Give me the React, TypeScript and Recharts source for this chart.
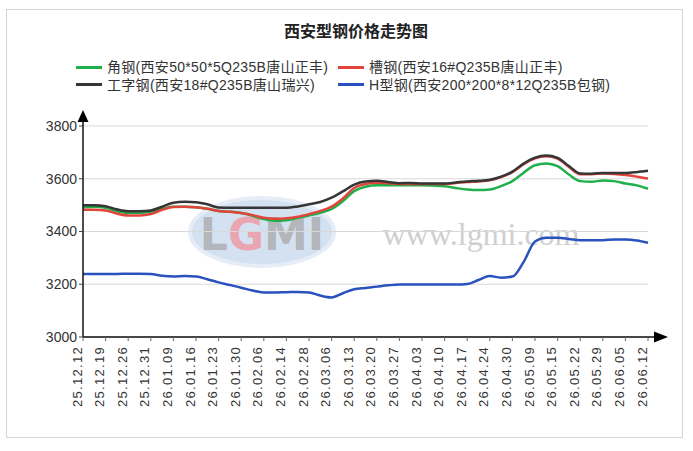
import React from 'react';
import { LineChart, Line, XAxis, YAxis, CartesianGrid, ReferenceDot } from 'recharts';

const chartTitle = '西安型钢价格走势图';

const dates = [
  '25.12.12', '25.12.19', '25.12.26', '25.12.31', '26.01.09', '26.01.16', '26.01.23',
  '26.01.30', '26.02.06', '26.02.14', '26.02.28', '26.03.06', '26.03.13', '26.03.20',
  '26.03.27', '26.04.03', '26.04.10', '26.04.17', '26.04.24', '26.04.30', '26.05.09',
  '26.05.15', '26.05.22', '26.05.29', '26.06.05', '26.06.12',
];

// values sampled at every label and halfway between labels
const angleSteel = [
  3492, 3494, 3490, 3477, 3471, 3471, 3475, 3486, 3494, 3494,
  3492, 3486, 3478, 3475, 3470, 3460, 3447, 3441, 3443, 3452,
  3461, 3471, 3486, 3515, 3553, 3570, 3575, 3575, 3575, 3575,
  3575, 3574, 3572, 3565, 3559, 3557, 3559, 3572, 3591, 3623,
  3651, 3658, 3648, 3616, 3591, 3589, 3593, 3591, 3582, 3575,
  3562,
];

const channelSteel = [
  3482, 3482, 3480, 3468, 3461, 3461, 3466, 3482, 3493, 3494,
  3492, 3486, 3478, 3475, 3470, 3462, 3452, 3448, 3450, 3456,
  3466, 3478, 3494, 3525, 3565, 3580, 3585, 3583, 3580, 3580,
  3580, 3580, 3580, 3584, 3588, 3590, 3594, 3606, 3625, 3655,
  3677, 3685, 3676, 3645, 3617, 3617, 3620, 3618, 3614, 3608,
  3601,
];

const iBeam = [
  3500, 3500, 3496, 3484, 3477, 3477, 3480, 3494, 3509, 3513,
  3511, 3503, 3491, 3490, 3490, 3490, 3490, 3490, 3490, 3495,
  3503, 3512, 3528, 3552, 3578, 3590, 3592, 3588, 3583, 3584,
  3582, 3582, 3582, 3586, 3590, 3592, 3596, 3608, 3627, 3658,
  3680, 3688, 3679, 3648, 3620, 3619, 3622, 3622, 3622, 3625,
  3630,
];

const hBeam = [
  3239, 3239, 3239, 3239, 3240, 3240, 3239, 3232, 3229, 3231,
  3229, 3219, 3207, 3197, 3187, 3176, 3169, 3169, 3170, 3171,
  3169, 3157, 3150, 3166, 3181, 3186, 3191, 3196, 3199, 3199,
  3199, 3199, 3199, 3199, 3201, 3216, 3231, 3225, 3229, 3285,
  3362, 3376, 3376, 3372, 3367, 3367, 3367, 3370, 3370, 3366,
  3357,
];

const yTicks = [3000, 3200, 3400, 3600, 3800];

const series = [
  { key: 'angle', name: '角钢(西安50*50*5Q235B唐山正丰)', color: '#1fb04b', values: angleSteel },
  { key: 'channel', name: '槽钢(西安16#Q235B唐山正丰)', color: '#e2433b', values: channelSteel },
  { key: 'ibeam', name: '工字钢(西安18#Q235B唐山瑞兴)', color: '#363636', values: iBeam },
  { key: 'hbeam', name: 'H型钢(西安200*200*8*12Q235B包钢)', color: '#2a52be', values: hBeam },
];

const drawOrder = ['hbeam', 'angle', 'channel', 'ibeam'];

const rows = angleSteel.map((_, k) => {
  const row: Record<string, number> = { pos: k / 2 };
  series.forEach((s) => {
    row[s.key] = s.values[k];
  });
  return row;
});

const xTickValues = dates.map((_, i) => i);

const FONT = '"Liberation Sans", Arial, "Noto Sans CJK SC", sans-serif';

const XTick = (props: any) => {
  const { x, y, payload } = props;
  return (
    <text
      transform={`translate(${x - 1.5},${y + 3}) rotate(-90)`}
      textAnchor="end"
      fontSize={13}
      letterSpacing={1.3}
      fill="#333"
      fontFamily={FONT}
    >
      {dates[payload.value]}
    </text>
  );
};

const XArrow = (p: any) => (
  <g>
    <line x1={p.cx} y1={p.cy} x2={p.cx + 7} y2={p.cy} stroke="#111" strokeWidth={1.5} />
    <path d={`M${p.cx + 6},${p.cy - 5.5} L${p.cx + 20},${p.cy} L${p.cx + 6},${p.cy + 5.5} Z`} fill="#000" />
  </g>
);

const YArrow = (p: any) => (
  <g>
    <line x1={p.cx} y1={p.cy} x2={p.cx} y2={p.cy - 5} stroke="#111" strokeWidth={1.5} />
    <path d={`M${p.cx - 5.5},${p.cy - 4} L${p.cx},${p.cy - 16} L${p.cx + 5.5},${p.cy - 4} Z`} fill="#000" />
  </g>
);

const legendRows = [
  [series[0], series[1]],
  [series[2], series[3]],
];

export default function App() {
  return (
    <div style={{ position: 'absolute', left: 0, top: 0, width: 693, height: 451, background: '#fff', fontFamily: FONT }}>
      <div
        style={{
          position: 'absolute',
          left: 6,
          top: 9,
          width: 675,
          height: 427,
          border: '1px solid #d4d4d4',
        }}
      />
      <div
        style={{
          position: 'absolute',
          left: 0,
          top: 22,
          width: 712,
          textAlign: 'center',
          fontSize: 16,
          fontWeight: 'bold',
          color: '#222',
          lineHeight: '20px',
        }}
      >
        {chartTitle}
      </div>
      {legendRows.map((row, ri) => (
        <div key={ri} style={{ position: 'absolute', left: 76, top: 58 + ri * 17.5, height: 18 }}>
          {row.map((s, ci) => (
            <div
              key={s.key}
              style={{
                position: 'absolute',
                left: ci * 262,
                top: 0,
                display: 'flex',
                alignItems: 'center',
                whiteSpace: 'nowrap',
                height: 18,
              }}
            >
              <div style={{ width: 26, height: 3, background: s.color, marginRight: 5 }} />
              <span style={{ fontSize: 14, letterSpacing: 0.3, color: '#333', lineHeight: '18px' }}>{s.name}</span>
            </div>
          ))}
        </div>
      ))}
      <svg style={{ position: 'absolute', left: 0, top: 0 }} width={693} height={451}>
        <ellipse cx={262} cy={232} rx={72} ry={34} fill="#cddcef" stroke="#e3ebf6" strokeWidth={4} opacity={0.85} />
        <text x={262} y={250} textAnchor="middle" fontSize={44} fontWeight="bold" fontFamily='"DejaVu Sans", sans-serif' opacity={0.75}>
          <tspan fill="#a8a8a8">L</tspan>
          <tspan fill="#f2939b">G</tspan>
          <tspan fill="#a8a8a8">MI</tspan>
        </text>
        <text x={481} y={245} textAnchor="middle" fontSize={32} fill="#cfcfcf" fontFamily='"Liberation Serif", serif'>
          www.lgmi.com
        </text>
      </svg>
      <div style={{ position: 'absolute', left: 0, top: 0 }}>
        <LineChart width={693} height={451} data={rows} margin={{ top: 126, right: 45, bottom: 44, left: 0 }}>
          <CartesianGrid vertical={false} stroke="#d9d9d9" />
          <XAxis
            dataKey="pos"
            type="number"
            domain={[0, 25]}
            ticks={xTickValues}
            interval={0}
            height={70}
            tick={<XTick />}
            tickSize={4}
            tickLine={{ stroke: '#666' }}
            axisLine={{ stroke: '#111', strokeWidth: 1.5 }}
          />
          <YAxis
            type="number"
            domain={[3000, 3800]}
            ticks={yTicks}
            width={83}
            tickSize={4}
            tick={{ fontSize: 14, fill: '#333', fontFamily: FONT }}
            tickLine={{ stroke: '#444' }}
            axisLine={{ stroke: '#111', strokeWidth: 1.5 }}
          />
          {drawOrder.map((k) => {
            const s = series.find((x) => x.key === k)!;
            return (
              <Line
                key={s.key}
                type="monotone"
                dataKey={s.key}
                name={s.name}
                stroke={s.color}
                strokeWidth={2.5}
                dot={false}
                activeDot={false}
                isAnimationActive={false}
              />
            );
          })}
          <ReferenceDot x={25} y={3000} r={0} shape={XArrow} />
          <ReferenceDot x={0} y={3800} r={0} shape={YArrow} />
        </LineChart>
      </div>
    </div>
  );
}
